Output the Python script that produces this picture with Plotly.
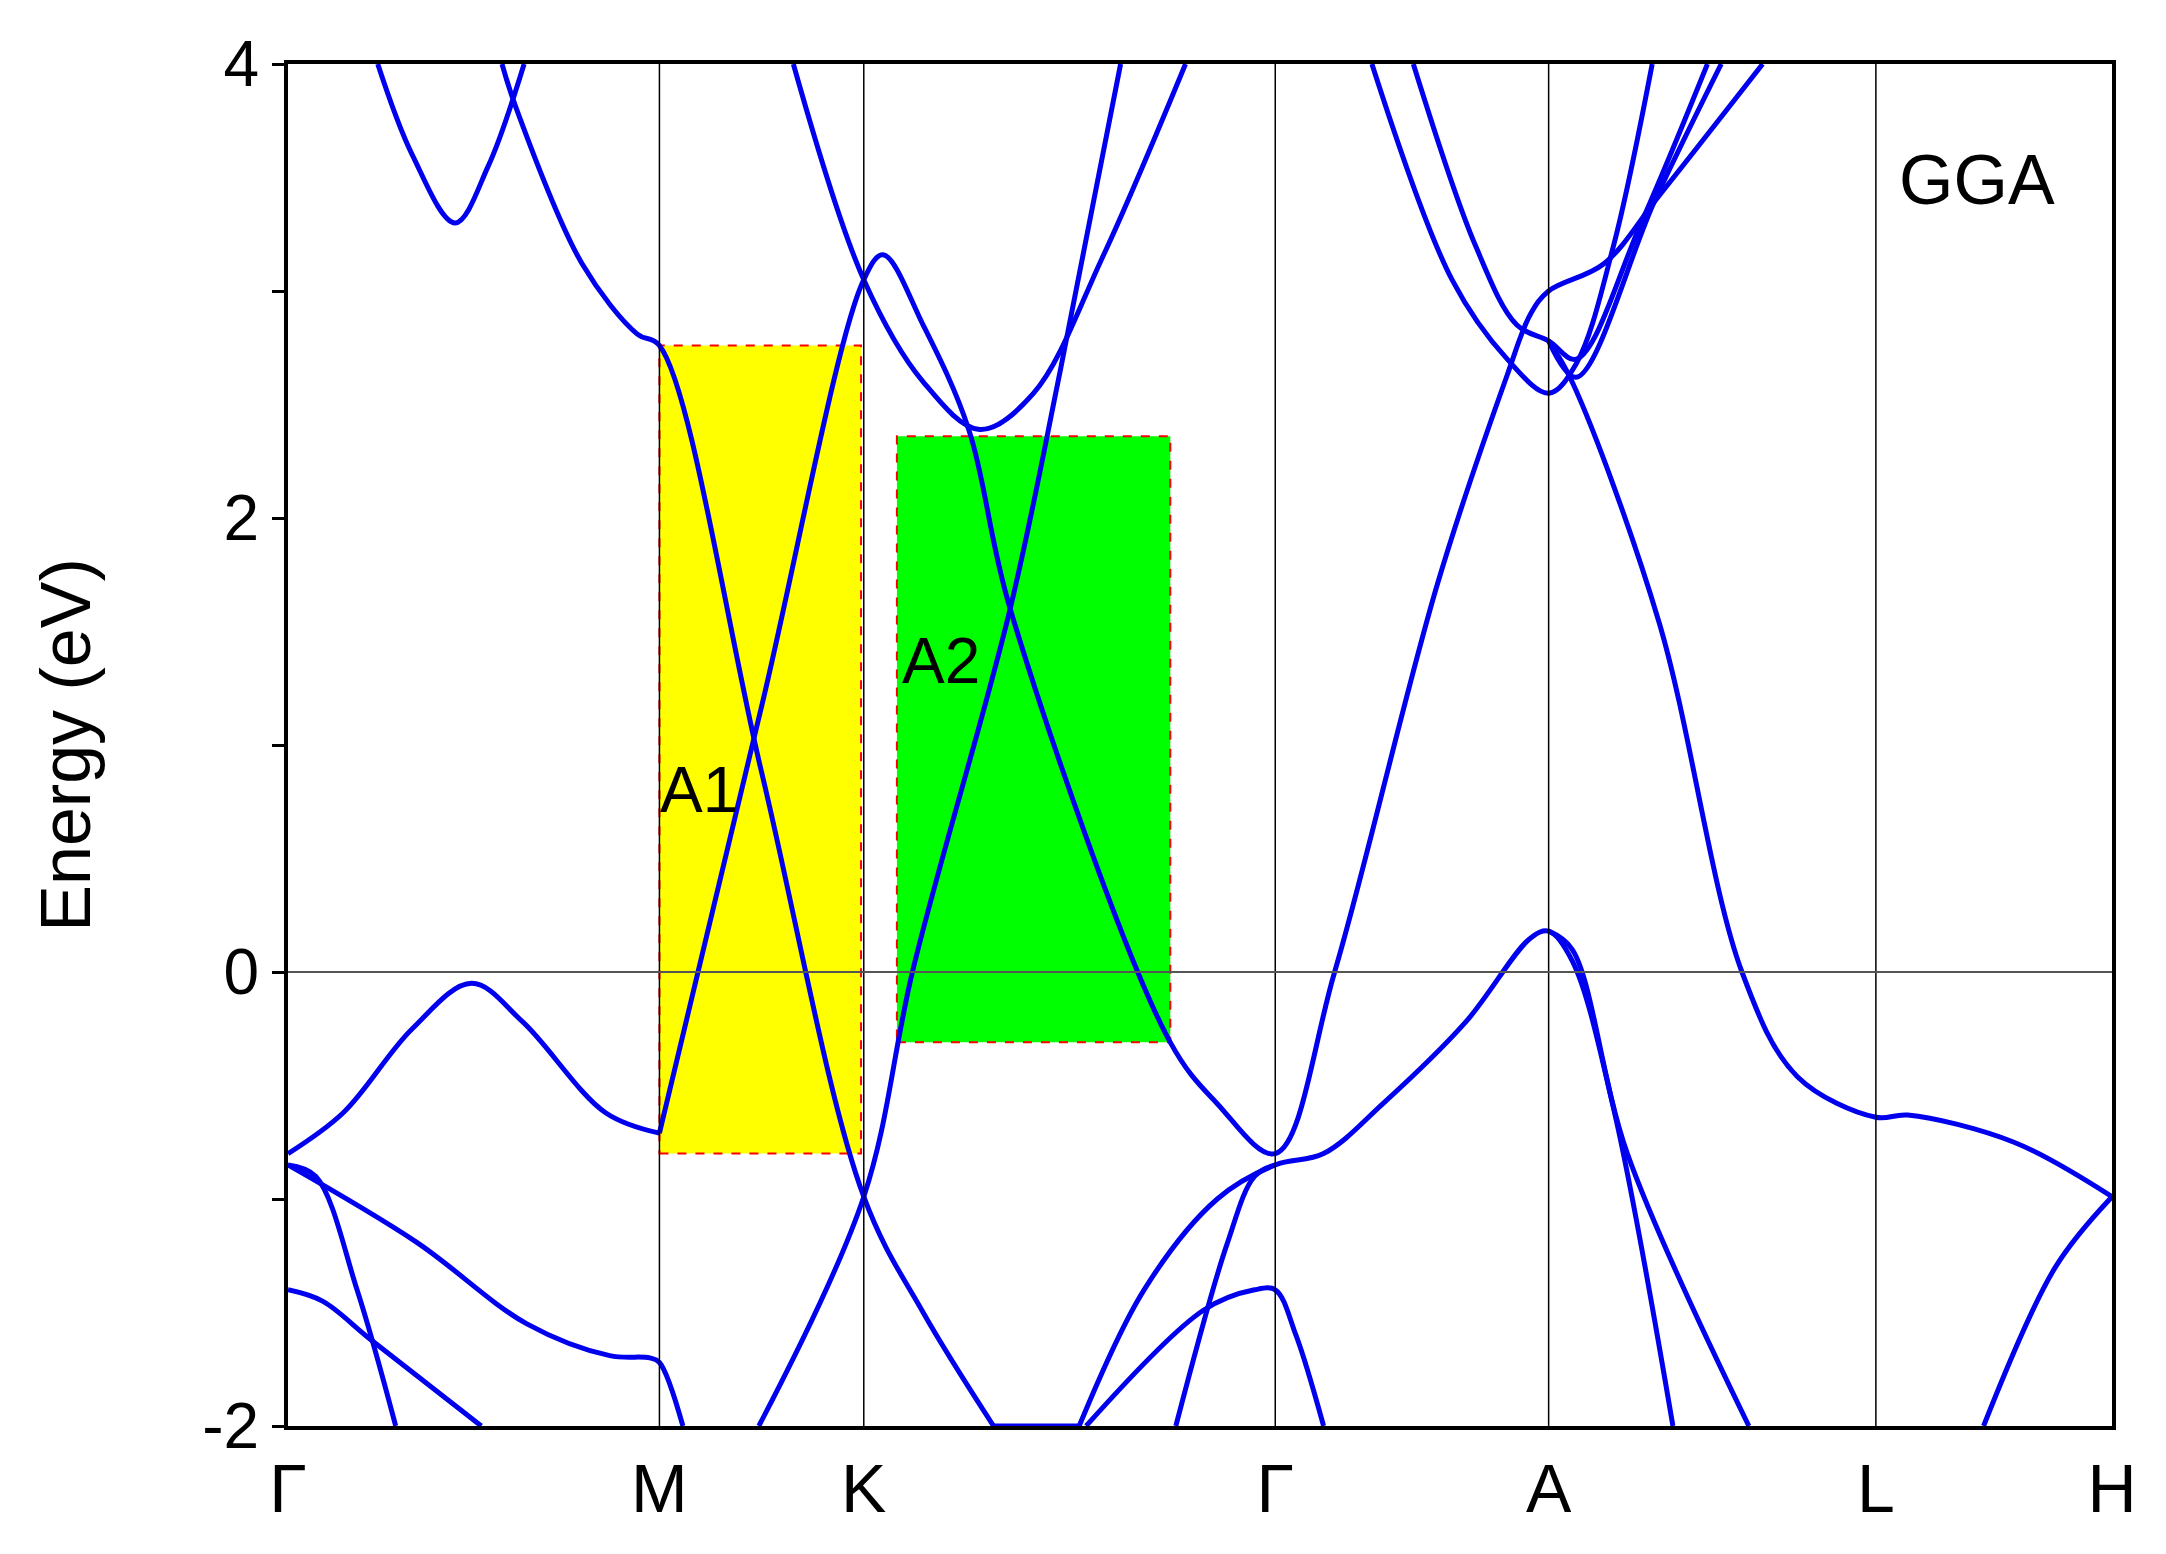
import plotly.graph_objects as go

# high-symmetry points along the path
k_ticks = [0, 2.69, 4.17, 7.15, 9.13, 11.50, 13.21]
k_labels = ["Γ", "M", "K", "Γ", "A", "L", "H"]

# bands as (k, E) pieces
bands = [
    [(0.65, 4), (0.9, 3.6), (1.21, 3.30), (1.45, 3.55), (1.71, 4)],
    [(1.55, 4), (1.65, 3.81), (2.13, 3.12), (2.53, 2.81), (2.69, 2.76), (3.43, 0.88), (4.17, -0.99), (4.6, -1.5), (5.11, -2)],
    [(0, -0.80), (0.4, -0.62), (0.9, -0.25), (1.33, -0.05), (1.7, -0.22), (2.3, -0.62), (2.69, -0.71)],
    [(2.69, -0.71), (3.43, 1.17), (4.17, 3.05), (4.31, 3.16), (4.6, 2.85), (4.93, 2.39), (5.23, 1.60), (6.39, -0.31),
     (6.73, -0.58), (7.15, -0.80), (7.58, 0.0), (8.33, 1.72), (8.83, 2.63), (9.0, 2.9), (9.13, 3.0), (9.53, 3.12), (9.93, 3.42), (10.68, 4)],
    [(3.66, 4), (4.17, 3.05), (4.6, 2.6), (5.01, 2.39), (5.4, 2.55), (5.9, 3.15), (6.5, 4)],
    [(3.41, -2), (4.17, -0.99), (4.53, 0.02), (5.23, 1.60), (5.59, 2.64), (6.03, 4)],
    [(0, -0.85), (0.93, -1.19), (1.73, -1.55), (2.33, -1.69), (2.62, -1.70), (2.69, -1.72), (2.86, -2)],
    [(0, -0.85), (0.2, -0.9), (0.5, -1.4), (0.78, -2)],
    [(0, -1.40), (0.25, -1.45), (0.6, -1.62), (1.40, -2)],
    [(5.73, -2), (6.2, -1.4), (6.73, -1.0), (7.15, -0.85), (7.5, -0.8), (7.93, -0.58), (8.53, -0.22),
     (9.0, 0.15), (9.13, 0.18), (9.3, 0.05), (9.6, -0.6), (10.03, -2)],
    [(9.13, 0.18), (9.3, 0.1), (9.7, -0.8), (10.58, -2)],
    [(5.78, -2), (6.63, -1.49), (7.0, -1.40), (7.15, -1.40), (7.3, -1.6), (7.50, -2)],
    [(6.43, -2), (6.8, -1.2), (7.0, -0.9), (7.15, -0.85)],
    [(9.13, 2.78), (9.3, 2.6), (9.93, 1.54), (10.53, 0.0), (10.93, -0.46), (11.5, -0.64), (11.73, -0.63), (12.5, -0.75), (13.21, -0.99)],
    [(12.28, -2), (12.8, -1.3), (13.21, -0.99)],
    [(7.85, 4), (8.43, 3.05), (8.83, 2.70), (9.13, 2.55), (9.33, 2.68), (9.6, 3.2), (9.88, 4)],
    [(8.15, 4), (8.6, 3.2), (8.9, 2.85), (9.13, 2.78), (9.33, 2.7), (9.8, 3.3), (10.28, 4)],
    [(9.13, 2.78), (9.33, 2.62), (9.9, 3.4), (10.38, 4)],
    [(5.11, -2), (5.73, -2)],
]

# highlighted regions (k0, k1, E0, E1, colour, label, label position)
regions = [
    (2.69, 4.15, -0.80, 2.76, "#ffff00", "A1", (2.98, 0.80)),
    (4.41, 6.39, -0.31, 2.36, "#00ff00", "A2", (4.73, 1.37)),
]

fig = go.Figure()

for k0, k1, e0, e1, col, lab, pos in regions:
    fig.add_shape(type="rect", x0=k0, x1=k1, y0=e0, y1=e1, fillcolor=col,
                  line=dict(color="red", width=2, dash="dash"), layer="below")
    fig.add_annotation(x=pos[0], y=pos[1], text=lab, showarrow=False,
                       font=dict(size=64, color="black", family="Arial"))

for k in k_ticks[1:-1]:
    fig.add_shape(type="line", x0=k, x1=k, y0=-2, y1=4, line=dict(color="black", width=1.5))
fig.add_shape(type="line", x0=0, x1=13.21, y0=0, y1=0, line=dict(color="#555555", width=2))

for b in bands:
    fig.add_trace(go.Scatter(x=[p[0] for p in b], y=[p[1] for p in b], mode="lines",
                             line=dict(color="#0000ee", width=5, shape="spline", smoothing=1.0),
                             showlegend=False, hoverinfo="skip"))

fig.add_annotation(x=12.23, y=3.49, text="GGA", showarrow=False,
                   font=dict(size=70, color="black", family="Arial"))

fig.update_xaxes(range=[0, 13.21], tickvals=k_ticks, ticktext=k_labels, showgrid=False,
                 zeroline=False, showline=True, linecolor="black", linewidth=4, mirror=True,
                 ticks="", tickfont=dict(size=68, color="black", family="Arial"))
fig.update_yaxes(range=[-2, 4], tickvals=[-2, -1, 0, 1, 2, 3, 4], ticktext=["-2", "", "0", "", "2", "", "4"],
                 showgrid=False, zeroline=False, showline=True, linecolor="black", linewidth=4, mirror=True,
                 ticks="outside", ticklen=12, tickwidth=3, tickcolor="black",
                 tickfont=dict(size=64, color="black", family="Arial"),
                 title=dict(text="Energy (eV)", font=dict(size=70, color="black", family="Arial"), standoff=90))
fig.update_layout(width=2166, height=1554, plot_bgcolor="white", paper_bgcolor="white",
                  margin=dict(l=280, r=62, t=56, b=136))
fig.write_html("out.html")
